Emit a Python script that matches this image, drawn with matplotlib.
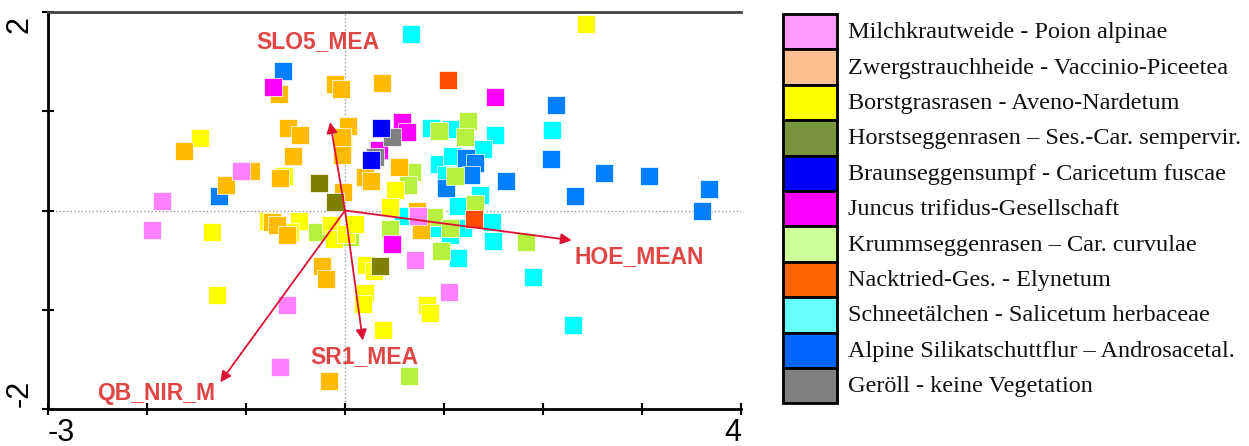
import matplotlib
matplotlib.use("Agg")
import matplotlib.pyplot as plt
from matplotlib.patches import Rectangle

# legend names, marker colours in the plot, patch colours in the legend
groups = [
    "Milchkrautweide - Poion alpinae",
    "Zwergstrauchheide - Vaccinio-Piceetea",
    "Borstgrasrasen - Aveno-Nardetum",
    "Horstseggenrasen \u2013 Ses.-Car. sempervir.",
    "Braunseggensumpf - Caricetum fuscae",
    "Juncus trifidus-Gesellschaft",
    "Krummseggenrasen \u2013 Car. curvulae",
    "Nacktried-Ges. - Elynetum",
    "Schneet\u00e4lchen - Salicetum herbaceae",
    "Alpine Silikatschuttflur \u2013 Androsacetal.",
    "Ger\u00f6ll - keine Vegetation",
]
marker_colors = ["#FF80FF", "#FFBB00", "#FFFF00", "#808000", "#0000FF", "#FF00FF",
                 "#B8F040", "#FF4C00", "#00FFFF", "#0080FF", "#808080"]
legend_colors = ["#FF99FF", "#F9BF8F", "#FFFF00", "#77933C", "#0000FF", "#FF00FF",
                 "#CCFF99", "#FF6600", "#66FFFF", "#0066FF", "#808080"]

# site scores per group (axis 1, axis 2)
milch_x = [-1.95, -1.85, -1.05, -0.59, -0.66, 0.74, 0.71, 1.05]
milch_y = [-0.20, 0.10, 0.40, -0.95, -1.58, -0.06, -0.50, -0.82]

zwerg_x = [-1.63, -1.20, -0.95, -0.67, -0.58, -0.45, -0.53, -0.66, -0.10, -0.04, 0.37, 0.03, -0.03,
           -0.03, -0.02, 0.20, 0.26, 0.55, -0.74, -0.69, -0.59, -0.23, -0.19, -0.16, 0.73, 0.77]
zwerg_y = [0.60, 0.26, 0.40, 1.17, 0.83, 0.76, 0.55, 0.33, 1.27, 1.22, 1.28, 0.85, 0.74,
           0.56, 0.19, 0.34, 0.30, 0.44, -0.12, -0.15, -0.25, -0.56, -0.69, -1.72, 0.00, -0.20]

borst_x = [2.43, -1.46, -0.62, -1.34, -1.29, -0.78, -0.46, -0.56, -0.14, -0.11, 0.01, 0.10, 0.21,
           0.29, 0.20, 0.18, 0.38, 0.83, 0.86, 0.51, 0.45]
borst_y = [1.88, 0.73, 0.35, -0.22, -0.85, -0.11, -0.11, -0.22, -0.15, -0.29, -0.24, -0.14, -0.55,
           -0.61, -0.83, -0.94, -1.20, -0.95, -1.03, 0.21, 0.04]

horst_x = [-0.26, -0.10, 0.35]
horst_y = [0.28, 0.09, -0.56]

braun_x = [0.36, 0.26]
braun_y = [0.83, 0.51]

juncus_x = [-0.73, 1.52, 0.58, 0.63, 0.34, 0.47]
juncus_y = [1.24, 1.14, 0.89, 0.79, 0.61, -0.34]

krumm_x = [0.95, 1.24, 1.21, 0.68, 0.64, 1.11, 1.31, 0.90, 1.06, 0.97, 0.45, 1.83, 0.65, -0.28, 0.05, -0.02]
krumm_y = [0.80, 0.90, 0.74, 0.39, 0.26, 0.35, 0.07, -0.07, -0.18, -0.41, -0.19, -0.32, -1.67, -0.22, -0.27, 0.66]

nackt_x = [1.04, 1.30]
nackt_y = [1.31, -0.09]

schnee_x = [0.67, 0.87, 1.07, 1.52, 1.39, 2.09, 0.95, 1.08, 1.02, 1.36, 1.14, 0.59, 1.48, 0.94,
            1.06, 1.19, 1.49, 1.14, 1.90, 2.30]
schnee_y = [1.78, 0.83, 0.82, 0.76, 0.62, 0.81, 0.47, 0.55, 0.36, 0.16, 0.05, -0.06, -0.12, -0.18,
            -0.25, -0.18, -0.31, -0.48, -0.67, -1.15]

alpine_x = [-0.63, -1.27, 2.13, 2.08, 1.63, 2.32, 2.62, 3.07, 3.68, 3.61, 1.22, 1.31, 1.27, 1.02]
alpine_y = [1.41, 0.15, 1.06, 0.52, 0.30, 0.15, 0.38, 0.35, 0.22, 0.00, 0.53, 0.48, 0.36, 0.23]

geroell_x = [0.47, 0.30]
geroell_y = [0.74, 0.54]

# environmental vectors
vec_names = ["SLO5_MEA", "HOE_MEAN", "SR1_MEA", "QB_NIR_M"]
vec_x = [-0.15, 2.29, 0.18, -1.26]
vec_y = [0.89, -0.30, -1.31, -1.73]
lab_x = [-0.90, 2.32, -0.35, -2.50]
lab_y = [1.70, -0.46, -1.47, -1.84]

series = [
    (schnee_x, schnee_y, 8), (alpine_x, alpine_y, 9), (krumm_x, krumm_y, 6),
    (borst_x, borst_y, 2), (zwerg_x, zwerg_y, 1), (horst_x, horst_y, 3),
    (milch_x, milch_y, 0), (juncus_x, juncus_y, 5), (nackt_x, nackt_y, 7),
    (geroell_x, geroell_y, 10), (braun_x, braun_y, 4),
]

fig = plt.figure(figsize=(12.49, 4.46), dpi=100)
ax = fig.add_axes([48 / 1249, 37 / 446, 693 / 1249, 397 / 446])

ax.axhline(0, color="#999999", ls=":", lw=1, zorder=1)
ax.axvline(0, color="#999999", ls=":", lw=1, zorder=1)

for xs, ys, gi in series:
    ax.scatter(xs, ys, marker="s", s=150, c=marker_colors[gi],
               edgecolors="white", linewidths=0.5, zorder=2)

arrow_col = "#DD1133"
for name, vx, vy, tx, ty in zip(vec_names, vec_x, vec_y, lab_x, lab_y):
    ax.annotate("", xy=(vx, vy), xytext=(0, 0),
                arrowprops=dict(arrowstyle="-|>", color=arrow_col, lw=1.3,
                                mutation_scale=16, shrinkA=0, shrinkB=0),
                zorder=3)
    ax.text(tx, ty, name, color="#E04545", fontsize=16.5, fontweight="bold",
            family="Liberation Sans", ha="left", va="center", zorder=4)

ax.set_xlim(-3, 4)
ax.set_ylim(-2, 2)
ax.set_xticks(range(-3, 5))
ax.set_yticks(range(-2, 3))
ax.tick_params(direction="inout", length=8, width=1.5,
               labelbottom=False, labelleft=False)

# only the end values are labelled, as in the original
tick_font = dict(fontsize=22, family="Liberation Sans", color="black")
ax.text(0.0, -0.022, "-3", transform=ax.transAxes, ha="left", va="top", **tick_font)
ax.text(1.0, -0.022, "4", transform=ax.transAxes, ha="right", va="top", **tick_font)
ax.text(-0.019, 0.99, "2", transform=ax.transAxes, ha="right", va="top",
        rotation=90, **tick_font)
ax.text(-0.019, 0.005, "-2", transform=ax.transAxes, ha="right", va="bottom",
        rotation=90, **tick_font)

ax.spines["right"].set_visible(False)
ax.spines["left"].set_linewidth(2)
ax.spines["bottom"].set_linewidth(2)
ax.spines["top"].set_linewidth(2)
ax.spines["top"].set_color("#444444")

# legend drawn in pixel space on the right
lax = fig.add_axes([0, 0, 1, 1])
lax.set_xlim(0, 1249)
lax.set_ylim(446, 0)
lax.axis("off")
box_h = 35.4
for i, (name, col) in enumerate(zip(groups, legend_colors)):
    top = 14 + i * box_h
    lax.add_patch(Rectangle((783, top), 54, box_h, facecolor=col,
                            edgecolor="black", lw=2))
    lax.text(848, top + box_h / 2 + 1, name, fontsize=17.5, family="Liberation Serif",
             va="center", ha="left", color="#111111")

fig.savefig("out.png", dpi=100)
